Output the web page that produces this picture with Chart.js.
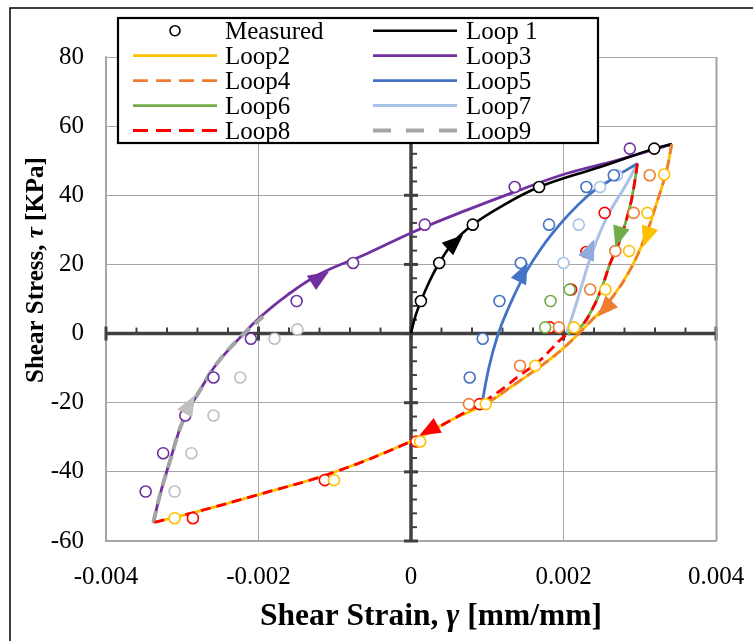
<!DOCTYPE html>
<html>
<head>
<meta charset="utf-8">
<script src="https://cdn.jsdelivr.net/npm/chart.js@4.4.0/dist/chart.umd.min.js"></script>
<style>
  html, body { margin: 0; padding: 0; background: #fff; }
  #wrap { width: 753px; height: 641px; }
</style>
</head>
<body>
<div id="wrap"><canvas id="hyst" width="753" height="641"></canvas></div>
<script>
// axis ticks
const xTicks = [-0.004, -0.002, 0, 0.002, 0.004];
const xTickLabels = ['-0.004', '-0.002', '0', '0.002', '0.004'];
const yTicks = [-60, -40, -20, 0, 20, 40, 60, 80];
const yTickLabels = ['-60', '-40', '-20', '0', '20', '40', '60', '80'];

// fitted loops [strain, stress]
const loop1 = [[0, 0], [0.00005, 4.5], [0.00013, 9.4], [0.00024, 15], [0.00037, 20.4], [0.00056, 26.5], [0.00081, 31.5],
  [0.00117, 36.6], [0.00168, 42.4], [0.00248, 48.2], [0.00319, 53.5], [0.00342, 54.8]];
const loop2 = [[0.00342, 54.8], [0.00335, 47], [0.00322, 37.6], [0.00307, 27.9], [0.00287, 18.3], [0.00261, 9.6],
  [0.00234, 3.2], [0.002, -4.2], [0.00169, -9.6], [0.0013, -15.6], [0.00098, -20.4], [0.00051, -25.2], [0.00007, -30.5],
  [-0.00102, -40.2], [-0.00207, -47], [-0.00277, -51.3], [-0.00338, -54.7]];
const loop3 = [[-0.00338, -54.7], [-0.00329, -46.5], [-0.00316, -36.8], [-0.00299, -25.2], [-0.00277, -16.5],
  [-0.00255, -8.8], [-0.00224, -1.1], [-0.00198, 4.7], [-0.00163, 11], [-0.00119, 17.3], [-0.00058, 23.1],
  [0.00003, 29.4], [0.00073, 35.7], [0.00136, 41], [0.00204, 46.3], [0.0027, 50.1], [0.00342, 54.8]];
const loop4 = [[0.00342, 54.8], [0.00335, 47], [0.00322, 37.6], [0.00307, 27.9], [0.00287, 18.3], [0.00261, 9.6],
  [0.00234, 3.2], [0.002, -4.2], [0.00169, -9.6], [0.0013, -15.6], [0.00098, -20.4]];
const loop5 = [[0.00093, -20.4], [0.00102, -10], [0.00113, -1], [0.00126, 6.5], [0.00152, 18.2], [0.00187, 29.4],
  [0.0023, 39.5], [0.00262, 44.5], [0.00297, 49.2]];
const loop6 = [[0.00297, 49.2], [0.00292, 42], [0.00287, 36.6], [0.00274, 27], [0.00261, 20.2], [0.00252, 14.4],
  [0.00239, 7.6], [0.00222, 1.8], [0.00205, -0.2]];
const loop7 = [[0.00204, 0.2], [0.00213, 6], [0.00222, 12.5], [0.00237, 23.1], [0.00257, 33.7], [0.00283, 43.4],
  [0.00297, 49.2]];
const loop8 = [[0.00297, 49.2], [0.00292, 42], [0.00287, 36.6], [0.00274, 27], [0.00261, 20.2], [0.00252, 14.4],
  [0.00239, 7.6], [0.00222, 1.8], [0.002, -1], [0.00186, -4], [0.00169, -7.8], [0.00139, -12.7], [0.00117, -16.5],
  [0.0009, -20.4], [0.00051, -25.2], [0.00007, -30.5], [-0.00102, -40.2], [-0.00207, -47], [-0.00277, -51.3],
  [-0.00338, -54.7]];
const loop9 = [[-0.00338, -54.7], [-0.00329, -46.5], [-0.00316, -36.8], [-0.00299, -25.2], [-0.00277, -16.5],
  [-0.00255, -8.8], [-0.00224, -1.1], [-0.00194, 4.9]];

// measured points per loop
const meas1 = [[0.00013, 9.4], [0.00037, 20.4], [0.00081, 31.5], [0.00168, 42.4], [0.00319, 53.5]];
const meas2 = [[0.00332, 46], [0.0031, 34.9], [0.00286, 23.9], [0.00255, 12.75], [0.00214, 1.8], [0.00163, -9.3],
  [0.00098, -20.4], [0.00012, -31.2], [-0.00101, -42.4], [-0.0031, -53.4]];
const meas3 = [[-0.00348, -45.7], [-0.00325, -34.6], [-0.00296, -23.7], [-0.00259, -12.7], [-0.0021, -1.5],
  [-0.0015, 9.4], [-0.00076, 20.4], [0.00018, 31.5], [0.00136, 42.4], [0.00287, 53.5]];
const meas4 = [[0.00313, 45.8], [0.00292, 34.9], [0.00268, 23.9], [0.00235, 12.75], [0.00194, 1.8], [0.00143, -9.3],
  [0.00076, -20.4]];
const meas5 = [[0.00266, 45.8], [0.0023, 42.4], [0.00181, 31.5], [0.00144, 20.4], [0.00116, 9.4], [0.00094, -1.5],
  [0.00077, -12.7]];
const meas6 = [[0.00208, 12.7], [0.00183, 9.4], [0.00176, 1.8]];
const meas7 = [[0.0027, 45.8], [0.00248, 42.4], [0.0022, 31.5], [0.002, 20.4]];
const meas8 = [[0.00254, 34.9], [0.0023, 23.6], [0.0021, 12.75], [0.00182, 1.8], [0.0009, -20.4], [0.00007, -31.2],
  [-0.00113, -42.4], [-0.00286, -53.4]];
const meas9 = [[-0.0031, -45.7], [-0.00288, -34.6], [-0.00259, -23.7], [-0.00224, -12.7], [-0.00179, -1.5],
  [-0.00149, 1.2]];

// direction arrows: loop label, strain, stress
const arrowMarks = [
  ['Loop 1', 0.00058, 26.5], ['Loop2', 0.00309, 27.9], ['Loop3', -0.00119, 16.3],
  ['Loop4', 0.00254, 7.1], ['Loop5', 0.00147, 17.8], ['Loop6', 0.00272, 27.9],
  ['Loop7', 0.00235, 24.5], ['Loop8', 0.00023, -28], ['Loop9', -0.0029, -20.4]
];

const SERIF = "'Liberation Serif', 'Times New Roman', serif";
const toXY = arr => arr.map(([x, y]) => ({ x, y }));

function lineSet(label, pts, color, width, dash, order, arrowColor, legendDash) {
  return {
    label, data: toXY(pts), showLine: true, borderColor: color, backgroundColor: color,
    borderWidth: width, borderDash: dash, pointRadius: 0, pointHoverRadius: 0, tension: 0.4,
    order, arrowColor: arrowColor || color, legendDash: legendDash || dash, fill: false
  };
}
function markSet(label, pts, color) {
  return {
    label, data: toXY(pts), showLine: false, pointRadius: 5.5, pointHoverRadius: 5.5,
    pointBorderWidth: 1.6, pointBorderColor: color, pointBackgroundColor: '#fff', order: 0
  };
}

const datasets = [
  markSet('m1', meas1, '#000000'),
  markSet('m2', meas2, '#FFC000'),
  markSet('m3', meas3, '#7030A0'),
  markSet('m4', meas4, '#ED7D31'),
  markSet('m5', meas5, '#4472C4'),
  markSet('m6', meas6, '#70AD47'),
  markSet('m7', meas7, '#A9C2E6'),
  markSet('m8', meas8, '#FF0000'),
  markSet('m9', meas9, '#BFBFBF'),
  lineSet('Loop 1', loop1, '#000000', 2.6, [], 4),
  lineSet('Loop2', loop2, '#FFC000', 2.8, [], 6),
  lineSet('Loop3', loop3, '#7030A0', 2.8, [], 5),
  lineSet('Loop4', loop4, '#ED7D31', 2.8, [10, 6], 2, null, [15, 8]),
  lineSet('Loop5', loop5, '#4472C4', 2.8, [], 3),
  lineSet('Loop6', loop6, '#70AD47', 2.8, [], 3),
  lineSet('Loop7', loop7, '#A9C2E6', 3, [], 3, '#8FAADC'),
  lineSet('Loop8', loop8, '#FF0000', 2.8, [10, 6], 1, null, [15, 8]),
  lineSet('Loop9', loop9, '#A5A5A5', 4, [12, 7], 2, '#BFBFBF', [18, 15])
];

const legendOrder = ['Measured', 'Loop 1', 'Loop2', 'Loop3', 'Loop4', 'Loop5', 'Loop6', 'Loop7', 'Loop8', 'Loop9'];

function seg(ctx, x1, y1, x2, y2) {
  ctx.beginPath(); ctx.moveTo(x1, y1); ctx.lineTo(x2, y2); ctx.stroke();
}

const framePlugin = {
  id: 'frame',
  beforeDraw(chart) {
    const ctx = chart.ctx;
    ctx.save();
    ctx.fillStyle = '#fff';
    ctx.fillRect(0, 0, chart.width, chart.height);
    ctx.strokeStyle = '#000';
    ctx.lineWidth = 1.5;
    ctx.strokeRect(10, 8, 900, 800);
    ctx.restore();
  },
  afterDraw(chart) {
    // slightly heavier right edge of the plot box
    const { ctx, chartArea: a } = chart;
    ctx.save();
    ctx.strokeStyle = '#A0A0A0';
    ctx.lineWidth = 2;
    seg(ctx, a.right + 0.5, a.top, a.right + 0.5, a.bottom);
    ctx.restore();
  }
};

// zero axes with tick marks
const zeroAxes = {
  id: 'zeroAxes',
  beforeDatasetsDraw(chart) {
    const { ctx, scales: { x, y } } = chart;
    const x0 = x.getPixelForValue(0), y0 = y.getPixelForValue(0);
    ctx.save();
    ctx.strokeStyle = '#404040';
    ctx.lineWidth = 2;
    for (let v = -60; v <= 80; v += 4) {
      const py = y.getPixelForValue(v);
      seg(ctx, x0, py, x0 + 6, py);
    }
    for (let k = -10; k <= 10; k++) {
      const px = x.getPixelForValue(k * 0.0004);
      seg(ctx, px, y0 - 6, px, y0);
    }
    ctx.lineWidth = 3;
    yTicks.forEach(v => { const py = y.getPixelForValue(v); seg(ctx, x0 - 7, py, x0 + 7, py); });
    xTicks.forEach(v => { const px = x.getPixelForValue(v); seg(ctx, px, y0 - 7, px, y0 + 7); });
    ctx.lineWidth = 3.5;
    seg(ctx, x0, y.top, x0, y.bottom);
    seg(ctx, x.left, y0, x.right, y0);
    ctx.restore();
  }
};

const arrowPlugin = {
  id: 'arrows',
  afterDatasetsDraw(chart) {
    const { ctx, scales: { x, y } } = chart;
    ctx.save();
    arrowMarks.forEach(([label, ax, ay]) => {
      const ds = chart.data.datasets.find(d => d.label === label);
      const px = x.getPixelForValue(ax), py = y.getPixelForValue(ay);
      let best = Infinity, dx = 1, dy = 0;
      for (let i = 0; i < ds.data.length - 1; i++) {
        const x1 = x.getPixelForValue(ds.data[i].x), y1 = y.getPixelForValue(ds.data[i].y);
        const x2 = x.getPixelForValue(ds.data[i + 1].x), y2 = y.getPixelForValue(ds.data[i + 1].y);
        const vx = x2 - x1, vy = y2 - y1;
        const t = Math.max(0, Math.min(1, ((px - x1) * vx + (py - y1) * vy) / (vx * vx + vy * vy)));
        const d = Math.hypot(px - (x1 + t * vx), py - (y1 + t * vy));
        if (d < best) { best = d; dx = vx; dy = vy; }
      }
      const len = Math.hypot(dx, dy);
      const ux = dx / len, uy = dy / len;
      const L = 21, W = 17;
      ctx.fillStyle = ds.arrowColor;
      ctx.beginPath();
      ctx.moveTo(px + ux * L / 2, py + uy * L / 2);
      ctx.lineTo(px - ux * L / 2 - uy * W / 2, py - uy * L / 2 + ux * W / 2);
      ctx.lineTo(px - ux * L / 2 + uy * W / 2, py - uy * L / 2 - ux * W / 2);
      ctx.closePath();
      ctx.fill();
    });
    ctx.restore();
  }
};

function drawParts(ctx, parts, cx, cy) {
  let total = 0;
  parts.forEach(([t, f]) => { ctx.font = f; total += ctx.measureText(t).width; });
  let xx = cx - total / 2;
  parts.forEach(([t, f]) => { ctx.font = f; ctx.fillText(t, xx, cy); xx += ctx.measureText(t).width; });
}

const titlePlugin = {
  id: 'titles',
  afterDraw(chart) {
    const ctx = chart.ctx;
    ctx.save();
    ctx.fillStyle = '#000';
    ctx.textBaseline = 'middle';
    ctx.textAlign = 'left';
    const b = 'bold 31.5px ' + SERIF, bi = 'italic bold 31.5px ' + SERIF;
    drawParts(ctx, [['Shear Strain, ', b], ['\u03B3', bi], [' [mm/mm]', b]], 431, 617);
    ctx.translate(37, 270);
    ctx.rotate(-Math.PI / 2);
    const b2 = 'bold 25px ' + SERIF, bi2 = 'italic bold 25px ' + SERIF;
    drawParts(ctx, [['Shear Stress, ', b2], ['\u03C4', bi2], [' [KPa]', b2]], 0, 0);
    ctx.restore();
  }
};

const legendPlugin = {
  id: 'boxLegend',
  afterDraw(chart) {
    const ctx = chart.ctx;
    const left = 118, top = 18, right = 598, bottom = 143;
    ctx.save();
    ctx.fillStyle = '#fff';
    ctx.fillRect(left, top, right - left, bottom - top);
    ctx.strokeStyle = '#000';
    ctx.lineWidth = 2.2;
    ctx.strokeRect(left, top, right - left, bottom - top);
    ctx.font = '25px ' + SERIF;
    ctx.textBaseline = 'alphabetic';
    legendOrder.forEach((label, i) => {
      const col = i % 2, row = Math.floor(i / 2);
      const cy = 30.7 + row * 24.95;
      const sx = col === 0 ? 133 : 373, tx = col === 0 ? 225 : 466;
      if (label === 'Measured') {
        ctx.strokeStyle = '#000';
        ctx.lineWidth = 1.6;
        ctx.beginPath();
        ctx.arc(sx + 42, cy, 5, 0, Math.PI * 2);
        ctx.stroke();
      } else {
        const ds = chart.data.datasets.find(d => d.label === label);
        ctx.strokeStyle = ds.borderColor;
        ctx.lineWidth = ds.borderWidth;
        ctx.setLineDash(ds.legendDash);
        seg(ctx, sx, cy, sx + 84, cy);
        ctx.setLineDash([]);
      }
      ctx.fillStyle = '#000';
      ctx.fillText(label, tx, cy + 8);
    });
    ctx.restore();
  }
};

new Chart(document.getElementById('hyst'), {
  type: 'scatter',
  data: { datasets },
  options: {
    responsive: false,
    animation: false,
    devicePixelRatio: 1,
    layout: { padding: { top: 57, right: 37, left: 0, bottom: 0 } },
    plugins: { legend: { display: false }, tooltip: { enabled: false } },
    scales: {
      x: {
        type: 'linear', min: -0.004, max: 0.004,
        afterBuildTicks: s => { s.ticks = xTicks.map(v => ({ value: v })); },
        afterFit: s => { s.height = 100; s.paddingLeft = 0; s.paddingRight = 0; },
        ticks: {
          padding: 21, color: '#000', font: { family: SERIF, size: 25 },
          maxRotation: 0, minRotation: 0,
          callback: (v, i) => xTickLabels[i]
        },
        grid: {
          drawTicks: false, lineWidth: 1,
          color: c => (c.tick && c.tick.value === 0 ? 'rgba(0,0,0,0)' : '#A6A6A6')
        },
        border: { display: true, color: '#A6A6A6', width: 1.5 },
        title: { display: false }
      },
      y: {
        type: 'linear', min: -60, max: 80,
        afterBuildTicks: s => { s.ticks = yTicks.map(v => ({ value: v })); },
        afterFit: s => { s.width = 106; s.paddingTop = 0; s.paddingBottom = 0; },
        ticks: {
          padding: 22, color: '#000', font: { family: SERIF, size: 25 },
          callback: (v, i) => yTickLabels[i]
        },
        grid: {
          drawTicks: false, lineWidth: 1,
          color: c => (c.tick && c.tick.value === 0 ? 'rgba(0,0,0,0)' : '#A6A6A6')
        },
        border: { display: true, color: '#A6A6A6', width: 1.5 },
        title: { display: false }
      }
    }
  },
  plugins: [framePlugin, zeroAxes, arrowPlugin, titlePlugin, legendPlugin]
});
</script>
</body>
</html>
